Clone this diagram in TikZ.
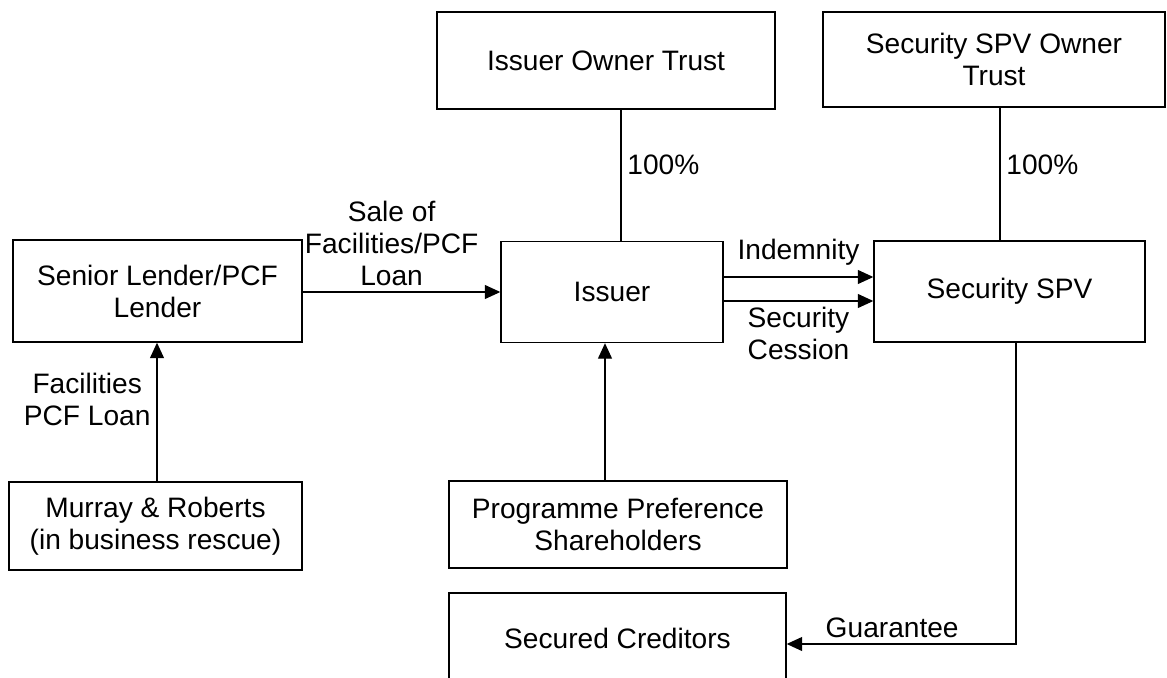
\documentclass[tikz,border=0pt]{standalone}
\usepackage{fontspec}
\setmainfont{Liberation Sans}
\usetikzlibrary{arrows.meta,positioning,calc}

\begin{document}
\begin{tikzpicture}[
 entity/.style={draw=black, line width=0.8pt, align=center, inner sep=0pt,
                font=\fontsize{16}{18.2}\selectfont},
 lbl/.style={align=center, font=\fontsize{16}{18.2}\selectfont, text=black},
 conn/.style={draw=black, line width=0.7pt},
 ar/.style={conn, -{Triangle[length=3.1mm, width=2.8mm]}},
]
 \useasboundingbox (0,0) rectangle (23.34,-13.56);

 \node[entity, minimum width=6.76cm, minimum height=1.94cm] (iot) at (12.12,-1.21) {Issuer Owner Trust};
 \node[entity, minimum width=6.84cm, minimum height=1.90cm] (sot) at (19.88,-1.19) {Security SPV Owner\\ Trust};
 \node[entity, minimum width=5.78cm, minimum height=2.04cm] (senior) at (3.15,-5.82) {Senior Lender/PCF\\ Lender};
 \node[entity, minimum width=4.44cm, minimum height=2.02cm] (issuer) at (12.24,-5.84) {Issuer};
 \node[entity, minimum width=5.42cm, minimum height=2.02cm] (spv) at (20.19,-5.83) {Security SPV};
 \node[entity, minimum width=5.86cm, minimum height=1.76cm] (murray) at (3.11,-10.52) {Murray \& Roberts\\ (in business rescue)};
 \node[entity, minimum width=6.76cm, minimum height=1.74cm] (prefs) at (12.36,-10.49) {Programme Preference\\ Shareholders};
 \node[entity, minimum width=6.74cm, minimum height=1.80cm] (secured) at (12.35,-12.76) {Secured Creditors};

 % ownership
 \draw[conn] ([xshift=3mm]iot.south) -- ([xshift=3mm]iot.south |- issuer.north)
   node[lbl, right, pos=0.42] {100\%};
 \draw[conn] ([xshift=1.2mm]sot.south) -- ([xshift=1.2mm]sot.south |- spv.north)
   node[lbl, right, pos=0.43] {100\%};

 \draw[ar] ([yshift=-0.02cm]senior.east) -- ([yshift=-0.02cm]senior.east -| issuer.west)
   node[lbl, above, pos=0.45] {Sale of\\ Facilities/PCF\\ Loan};
 \draw[ar] ([yshift=3mm]issuer.east) -- ([yshift=3mm]issuer.east -| spv.west)
   node[lbl, above=1mm, midway] {Indemnity};
 \draw[ar] ([yshift=-1.8mm]issuer.east) -- ([yshift=-1.8mm]issuer.east -| spv.west)
   node[lbl, below, midway] {Security\\ Cession};
 \draw[ar] ([xshift=0.03cm]murray.north) -- ([xshift=0.03cm]murray.north |- senior.south)
   node[lbl, left, pos=0.59] {Facilities\\ PCF Loan};
 \draw[ar] ([xshift=-2.6mm]prefs.north) -- ([xshift=-2.6mm]prefs.north |- issuer.south);
 \draw[ar] ([xshift=1.3mm]spv.south) |- ([yshift=-1.2mm]secured.east)
   node[lbl, above, pos=0.77] {Guarantee};
\end{tikzpicture}
\end{document}
